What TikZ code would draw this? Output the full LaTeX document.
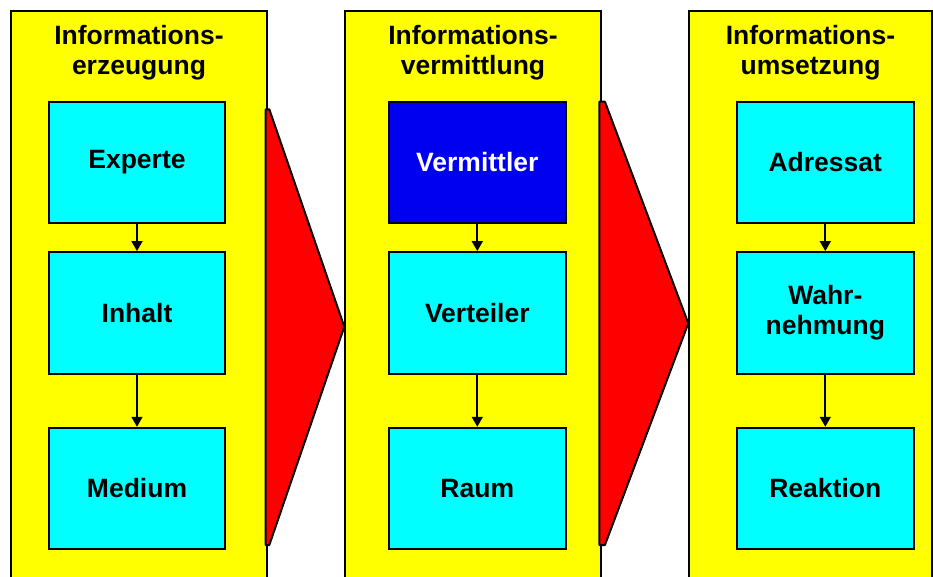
\documentclass[tikz,border=0pt]{standalone}
\usepackage{fontspec}
\setmainfont{Liberation Sans}
\usetikzlibrary{arrows.meta}
\definecolor{panelyellow}{RGB}{255,255,0}
\definecolor{boxcyan}{RGB}{0,255,255}
\definecolor{boxblue}{RGB}{0,0,240}
\definecolor{flowred}{RGB}{255,0,0}
\begin{document}
\begin{tikzpicture}[x=1pt,y=-1pt,
  panel/.style={draw=black,line width=2pt,fill=panelyellow},
  stagebox/.style={draw=black,line width=2pt,fill=boxcyan,
    minimum width=176.5pt,minimum height=121.5pt,inner sep=0pt,
    align=center,font=\fontsize{26.5}{30}\selectfont\bfseries},
  title/.style={anchor=base,inner sep=0pt,font=\fontsize{26.5}{30}\selectfont\bfseries},
  flow/.style={draw=black,line width=2pt,line join=round,fill=flowred},
  link/.style={draw=black,line width=1.8pt,-{Triangle[width=11pt,length=10pt]}}]
\useasboundingbox (0,0) rectangle (933,576);
\clip (0,0) rectangle (933,576);

% three stage panels, open at the bottom edge
\path[panel] (11,11) rectangle (267,600);
\path[panel] (345,11) rectangle (601,600);
\path[panel] (689,11) rectangle (932,600);

% panel headings
\node[title] (h1a) at (139,44.5) {Informations-};
\node[title] (h1b) at (139,74.5) {erzeugung};
\node[title] (h2a) at (473,44.5) {Informations-};
\node[title] (h2b) at (473,74.5) {vermittlung};
\node[title] (h3a) at (810.5,44.5) {Informations-};
\node[title] (h3b) at (810.5,74.5) {umsetzung};

% red chevrons between the panels
\path[flow] (265.7,109.3) -- (269.3,109.3) -- (344.3,326.7) -- (269.3,545) -- (265.7,545) -- cycle;
\path[flow] (599.3,101.7) -- (604.9,101.7) -- (688.3,323.3) -- (604.9,545) -- (599.3,545) -- cycle;

% first column
\node[stagebox] (experte) at (137,162.5) {Experte};
\node[stagebox] (inhalt)  at (137,312.8) {Inhalt};
\node[stagebox] (medium)  at (137,488.5) {Medium};

% second column
\node[stagebox,fill=boxblue,text=white] (vermittler) at (477.3,162.5) {Vermittler};
\node[stagebox] (verteiler) at (477.3,312.8) {Verteiler};
\node[stagebox] (raum)      at (477.3,488.5) {Raum};

% third column
\node[stagebox] (adressat)  at (825.3,162.5) {Adressat};
\node[stagebox] (wahrn)     at (825.3,312.8) {Wahr-\\nehmung};
\node[stagebox] (reaktion)  at (825.3,488.5) {Reaktion};

% vertical links
\draw[link] (experte) -- (inhalt);
\draw[link] (inhalt) -- (medium);
\draw[link] (vermittler) -- (verteiler);
\draw[link] (verteiler) -- (raum);
\draw[link] (adressat) -- (wahrn);
\draw[link] (wahrn) -- (reaktion);
\end{tikzpicture}
\end{document}
